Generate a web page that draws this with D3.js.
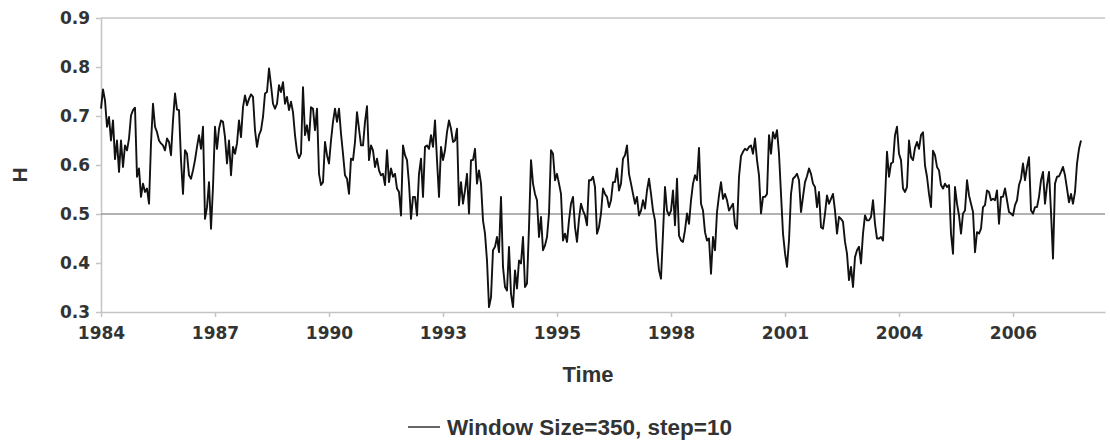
<!DOCTYPE html>
<meta charset="utf-8">
<script src="https://d3js.org/d3.v7.min.js"></script>
<style>
  body { margin: 0; background: #fff; }
</style>
<div id="chart"></div>
<script>

// x axis: one label every 57 points, the axis holds 502 slots
var tickLabels = ["1984", "1987", "1990", "1993", "1995", "1998", "2001", "2004", "2006"];
var pointsPerLabel = 57;
var slots = 502;

var yTicks = [0.3, 0.4, 0.5, 0.6, 0.7, 0.8, 0.9];
var refLevel = 0.5;
var seriesName = "Window Size=350, step=10";

// H values
var hValues = [
  0.715,0.754,0.732,0.678,0.698,0.650,0.691,0.612,0.650,0.586,
  0.650,0.596,0.640,0.630,0.654,0.701,0.712,0.717,0.576,0.593,
  0.535,0.562,0.545,0.552,0.521,0.644,0.725,0.678,0.667,0.650,
  0.644,0.640,0.630,0.654,0.647,0.620,0.691,0.746,0.713,0.712,
  0.610,0.541,0.630,0.623,0.579,0.572,0.589,0.610,0.637,0.661,
  0.633,0.678,0.490,0.514,0.565,0.470,0.555,0.678,0.633,0.674,
  0.691,0.688,0.657,0.603,0.650,0.579,0.637,0.623,0.644,0.691,
  0.657,0.718,0.742,0.722,0.735,0.744,0.739,0.671,0.637,0.661,
  0.671,0.698,0.746,0.749,0.797,0.763,0.725,0.715,0.725,0.763,
  0.749,0.769,0.725,0.739,0.712,0.729,0.708,0.661,

  0.627,0.614,0.623,0.759,0.661,0.681,0.650,0.718,0.715,0.671,
  0.715,0.582,0.559,0.565,0.647,0.620,0.603,0.650,0.688,0.715,
  0.688,0.715,0.664,0.623,0.579,0.572,0.541,0.613,0.610,0.647,
  0.708,0.674,0.640,0.640,0.688,0.720,0.610,0.640,0.630,0.596,
  0.613,0.589,0.579,0.582,0.559,0.630,0.565,0.593,0.576,0.582,
  0.552,0.545,0.497,0.640,0.620,0.610,0.562,0.490,0.535,0.535,
  0.497,0.582,0.613,0.535,0.637,0.640,0.633,0.661,0.637,0.691,
  0.610,0.535,0.637,0.610,0.630,0.667,0.691,0.674,0.647,0.650,
  0.674,0.518,0.565,0.521,0.548,0.582,0.501,0.610,0.610,0.633,
  0.562,0.589,0.562,0.487,0.460,0.405,0.310,

  0.330,0.426,0.433,0.453,0.422,0.535,0.392,0.351,0.344,0.433,
  0.337,0.310,0.385,0.348,0.405,0.399,0.453,0.351,0.358,0.473,
  0.610,0.562,0.541,0.528,0.453,0.494,0.426,0.436,0.453,0.501,
  0.630,0.623,0.569,0.582,0.562,0.541,0.446,0.460,0.443,0.487,
  0.521,0.535,0.473,0.443,0.490,0.521,0.507,0.497,0.477,0.569,
  0.569,0.576,0.555,0.460,0.473,0.501,0.552,0.541,0.535,0.514,
  0.528,0.565,0.565,0.593,0.548,0.562,0.613,0.620,0.640,0.582,
  0.562,0.541,0.521,0.535,0.497,0.507,0.528,0.511,0.548,0.572,
  0.541,0.507,0.487,0.426,0.385,0.368,0.460,0.555,0.507,0.497,
  0.507,0.548,0.477,0.572,0.456,0.446,0.443,0.467,

  0.501,0.480,0.528,0.562,0.579,0.569,0.635,0.521,0.507,0.463,
  0.446,0.450,0.378,0.453,0.426,0.504,0.538,0.565,0.531,0.541,
  0.528,0.507,0.514,0.521,0.477,0.470,0.576,0.618,0.627,0.633,
  0.630,0.637,0.640,0.623,0.654,0.610,0.579,0.501,0.535,0.535,
  0.541,0.661,0.623,0.667,0.654,0.671,0.623,0.541,0.460,0.420,
  0.392,0.446,0.541,0.572,0.576,0.582,0.569,0.504,0.535,0.565,
  0.577,0.593,0.582,0.562,0.555,0.514,0.545,0.473,0.470,0.501,
  0.538,0.521,0.531,0.541,0.507,0.460,0.494,0.490,0.484,0.443,
  0.419,0.365,0.392,0.351,0.412,0.426,0.433,0.399,0.460,0.497,
  0.487,0.487,0.494,0.528,0.480,0.450,0.450,

  0.453,0.446,0.528,0.627,0.576,0.603,0.606,0.661,0.678,0.623,
  0.610,0.552,0.545,0.555,0.650,0.616,0.610,0.635,0.647,0.633,
  0.661,0.667,0.599,0.576,0.541,0.514,0.629,0.620,0.596,0.589,
  0.559,0.552,0.562,0.555,0.559,0.460,0.419,0.555,0.521,0.497,
  0.460,0.501,0.507,0.569,0.538,0.521,0.504,0.422,0.463,0.460,
  0.470,0.514,0.518,0.548,0.545,0.528,0.531,0.528,0.548,0.480,
  0.535,0.535,0.552,0.528,0.504,0.501,0.497,0.518,0.528,0.559,
  0.572,0.603,0.569,0.596,0.616,0.507,0.501,0.514,0.514,0.535,
  0.569,0.586,0.521,0.559,0.586,0.504,0.409,0.562,0.576,0.577,
  0.586,0.596,0.579,0.552,0.524,0.541,0.521,0.545,0.603,0.633,
  0.650
];

// set the dimensions and margins of the graph
var margin = {top: 18, right: 5, bottom: 133, left: 101},
    width = 1110 - margin.left - margin.right,
    height = 445 - margin.top - margin.bottom;

var root = d3.select("#chart")
  .append("svg")
    .attr("width", 1110)
    .attr("height", 445);

var svg = root.append("g")
    .attr("transform", "translate(" + margin.left + "," + margin.top + ")");

var x = d3.scaleLinear()
  .domain([0, slots])
  .range([0, width]);

var y = d3.scaleLinear()
  .domain([0.3, 0.9])
  .range([height, 0]);

var axisColor = "#c4c4c4";
var textColor = "#333";

// top border of the plot area
svg.append("line")
  .attr("x1", 0).attr("x2", width)
  .attr("y1", y(0.9)).attr("y2", y(0.9))
  .attr("stroke", axisColor)
  .attr("stroke-width", 1.5);

// Y axis
var yAxis = svg.append("g")
  .call(d3.axisLeft(y)
    .tickValues(yTicks)
    .tickFormat(d3.format(".1f"))
    .tickSize(5)
    .tickSizeOuter(0)
    .tickPadding(6));

// X axis
var xAxis = svg.append("g")
  .attr("transform", "translate(0," + height + ")")
  .call(d3.axisBottom(x)
    .tickValues(tickLabels.map(function(d, i) { return i * pointsPerLabel; }))
    .tickFormat(function(d, i) { return tickLabels[i]; })
    .tickSize(5)
    .tickSizeOuter(0)
    .tickPadding(10));

[yAxis, xAxis].forEach(function(a) {
  a.selectAll("path, line")
    .attr("stroke", axisColor)
    .attr("stroke-width", 1.5);
  a.selectAll("text")
    .attr("fill", textColor)
    .style("font-family", "'DejaVu Sans', sans-serif")
    .style("font-weight", "bold")
    .style("font-size", "17px");
});

// reference line at 0.5
svg.append("line")
  .attr("x1", 0).attr("x2", width)
  .attr("y1", y(refLevel)).attr("y2", y(refLevel))
  .attr("stroke", "#999")
  .attr("stroke-width", 1.5);

// the H series
svg.append("path")
  .datum(hValues)
  .attr("fill", "none")
  .attr("stroke", "#111")
  .attr("stroke-width", 1.9)
  .attr("stroke-linejoin", "round")
  .attr("d", d3.line()
    .x(function(d, i) { return x(i); })
    .y(function(d) { return y(d); }));

// axis titles
var titleFont = "'Liberation Sans', Arial, sans-serif";

root.append("text")
  .attr("transform", "translate(27," + (margin.top + y(0.6) + 10) + ") rotate(-90)")
  .attr("text-anchor", "middle")
  .attr("fill", textColor)
  .style("font-family", titleFont)
  .style("font-weight", "bold")
  .style("font-size", "21px")
  .text("H");

root.append("text")
  .attr("x", 588)
  .attr("y", 382)
  .attr("text-anchor", "middle")
  .attr("fill", textColor)
  .style("font-family", titleFont)
  .style("font-weight", "bold")
  .style("font-size", "22px")
  .text("Time");

// legend
var legend = root.append("g")
  .attr("transform", "translate(408,427)");

legend.append("line")
  .attr("x1", 0).attr("x2", 32)
  .attr("y1", 0).attr("y2", 0)
  .attr("stroke", "#666")
  .attr("stroke-width", 2);

legend.append("text")
  .attr("x", 39)
  .attr("y", 8)
  .attr("fill", textColor)
  .style("font-family", titleFont)
  .style("font-weight", "bold")
  .style("font-size", "22.5px")
  .text(seriesName);

</script>
